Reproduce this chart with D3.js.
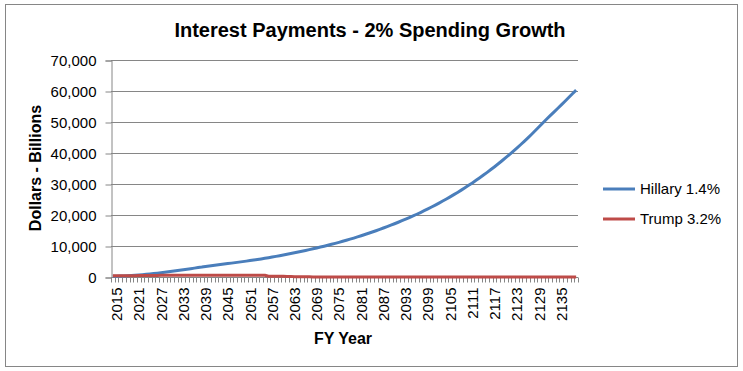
<!DOCTYPE html>
<html>
<head>
<meta charset="utf-8">
<script src="https://cdn.jsdelivr.net/npm/d3@7"></script>
<style>
  body { margin: 0; background: #fff; }
  text { font-family: "Liberation Sans", Arial, sans-serif; fill: #000; }
</style>
</head>
<body>
<div id="chart"></div>
<script>

var years = d3.range(2015, 2141);

// Interest payments, $ billions
var hillary = [
  220, 260, 300, 350, 410, 480, 560, 650, 750, 860,
  980, 1110, 1250, 1400, 1560, 1720, 1880, 2040, 2200, 2360,
  2520, 2690, 2860, 3030, 3200, 3400, 3540, 3690, 3840, 4000,
  4160, 4320, 4480, 4640, 4800, 4960, 5120, 5290, 5460, 5640,
  5830, 6030, 6240, 6450, 6660, 6880, 7100, 7330, 7560, 7800,
  8050, 8300, 8560, 8820, 9090, 9370, 9650, 9940, 10240, 10550,
  10860, 11180, 11510, 11850, 12200, 12560, 12930, 13310, 13700, 14100,
  14510, 14930, 15360, 15800, 16250, 16710, 17180, 17660, 18150, 18650,
  19160, 19690, 20240, 20800, 21380, 21970, 22580, 23200, 23840, 24500,
  25170, 25860, 26560, 27280, 28020, 28780, 29560, 30360, 31180, 32020,
  32880, 33760, 34660, 35580, 36520, 37490, 38480, 39490, 40520, 41580,
  42660, 43770, 44900, 46060, 47240, 48450, 49690, 50900, 52050, 53200,
  54350, 55500, 56700, 57900, 59100, 60300
];

var trump = [
  380, 390, 400, 410, 420, 430, 440, 450, 460, 480,
  500, 510, 520, 530, 540, 540, 550, 550, 550, 550,
  550, 550, 550, 550, 550, 550, 550, 550, 550, 550,
  550, 550, 550, 550, 550, 550, 550, 550, 550, 550,
  550, 550, 230, 220, 220, 210, 210, 200, 200, 60,
  50, 50, 50, 50, 40, 40, 40, 40, 40, 40,
  40, 40, 40, 40, 40, 40, 40, 40, 40, 40,
  40, 40, 40, 40, 40, 40, 40, 40, 40, 40,
  40, 40, 40, 40, 40, 40, 40, 40, 40, 40,
  40, 40, 40, 40, 40, 40, 40, 40, 40, 40,
  40, 40, 40, 40, 40, 40, 40, 40, 40, 40,
  40, 40, 40, 40, 40, 40, 40, 40, 40, 40,
  40, 40, 40, 40, 40, 40
];

var yTicks = [0, 10000, 20000, 30000, 40000, 50000, 60000, 70000];
var xLabels = years.filter(function(d) { return (d - 2015) % 6 === 0; });

var series = [
  { name: 'Hillary 1.4%', values: hillary, color: '#4A7EBB' },
  { name: 'Trump 3.2%', values: trump, color: '#BE4B48' }
];

drawChart();

function drawChart() {

  var width = 743,
      height = 371,
      plotLeft = 111,
      plotRight = 578,
      plotTop = 60,
      plotBottom = 277;

  var svg = d3.select('#chart').append('svg')
      .attr('width', width)
      .attr('height', height);

  // outer frame
  svg.append('rect')
      .attr('x', 5.5).attr('y', 4.5)
      .attr('width', 732).attr('height', 362)
      .attr('fill', 'white')
      .attr('stroke', '#868686');

  var xScale = d3.scaleBand()
      .domain(years)
      .range([plotLeft, plotRight]);

  var yScale = d3.scaleLinear()
      .domain([0, 70000])
      .range([plotBottom, plotTop]);

  function cx(d) { return xScale(d) + xScale.bandwidth() / 2; }

  // gridlines
  svg.append('g')
      .selectAll('line')
      .data(yTicks.slice(1))
      .enter()
      .append('line')
      .attr('x1', plotLeft).attr('x2', plotRight)
      .attr('y1', function(d) { return Math.round(yScale(d)) + 0.5; })
      .attr('y2', function(d) { return Math.round(yScale(d)) + 0.5; })
      .attr('stroke', '#868686');

  // y axis
  var yAxis = svg.append('g')
      .attr('transform', 'translate(' + (plotLeft + 0.5) + ',0.5)')
      .call(d3.axisLeft(yScale).tickValues(yTicks).tickSize(6).tickPadding(9)
        .tickFormat(d3.format(',')));
  yAxis.select('.domain').attr('stroke', '#868686');
  yAxis.selectAll('.tick line').attr('stroke', '#868686');
  yAxis.selectAll('.tick text').style('font-size', '15px')
      .style('font-family', '"Liberation Sans", Arial, sans-serif').attr('fill', '#000');

  // x axis: tick for every year, label every 6th
  var xAxisG = svg.append('g')
      .attr('transform', 'translate(0,' + (plotBottom + 0.5) + ')');
  xAxisG.append('line')
      .attr('x1', plotLeft).attr('x2', plotRight)
      .attr('stroke', '#868686');
  xAxisG.selectAll('line.tk')
      .data(years.concat([2141]))
      .enter()
      .append('line')
      .attr('class', 'tk')
      .attr('x1', function(d) { return Math.round(d === 2141 ? plotRight : xScale(d)) + 0.5; })
      .attr('x2', function(d) { return Math.round(d === 2141 ? plotRight : xScale(d)) + 0.5; })
      .attr('y1', 0).attr('y2', 5)
      .attr('stroke', '#868686');
  xAxisG.selectAll('text')
      .data(xLabels)
      .enter()
      .append('text')
      .attr('transform', function(d) {
        return 'translate(' + (cx(d) + 4) + ',10) rotate(-90)';
      })
      .attr('text-anchor', 'end')
      .attr('dy', '0.35em')
      .style('font-size', '15px')
      .text(function(d) { return d; });

  // lines
  var line = d3.line()
      .x(function(d, i) { return cx(years[i]); })
      .y(function(d) { return yScale(d); });

  svg.append('g')
      .selectAll('path')
      .data(series)
      .enter()
      .append('path')
      .attr('d', function(d) { return line(d.values); })
      .attr('fill', 'none')
      .attr('stroke', function(d) { return d.color; })
      .attr('stroke-width', 3)
      .attr('stroke-linejoin', 'round');

  // titles
  svg.append('text')
      .attr('x', 370).attr('y', 37)
      .attr('text-anchor', 'middle')
      .style('font-size', '20px')
      .style('font-weight', 'bold')
      .text('Interest Payments - 2% Spending Growth');

  svg.append('text')
      .attr('transform', 'translate(41,168) rotate(-90)')
      .attr('text-anchor', 'middle')
      .style('font-size', '16px')
      .style('font-weight', 'bold')
      .text('Dollars - Billions');

  svg.append('text')
      .attr('x', 343).attr('y', 344)
      .attr('text-anchor', 'middle')
      .style('font-size', '16px')
      .style('font-weight', 'bold')
      .text('FY Year');

  // legend
  var legend = svg.append('g')
      .selectAll('g')
      .data(series)
      .enter()
      .append('g')
      .attr('transform', function(d, i) { return 'translate(603,' + (189 + i * 30) + ')'; });
  legend.append('line')
      .attr('x1', 0).attr('x2', 32)
      .attr('stroke', function(d) { return d.color; })
      .attr('stroke-width', 3);
  legend.append('text')
      .attr('x', 37).attr('dy', '0.35em')
      .style('font-size', '15px')
      .text(function(d) { return d.name; });
}

</script>
</body>
</html>
